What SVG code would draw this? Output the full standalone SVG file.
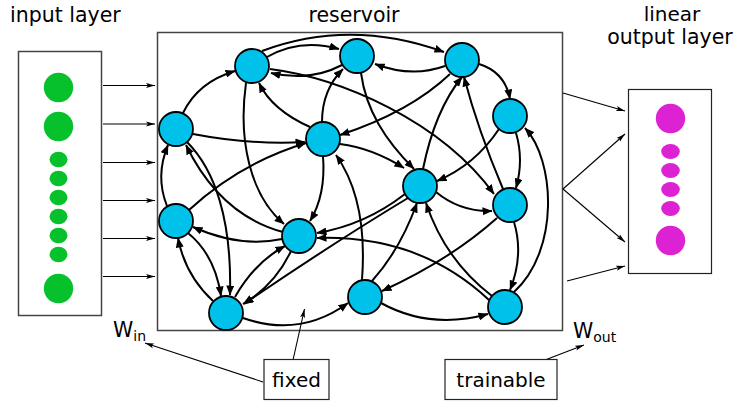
<svg xmlns="http://www.w3.org/2000/svg" width="735" height="401" viewBox="0 0 735 401">
<style>
  .lbl{font-family:"DejaVu Sans","Verdana",sans-serif;fill:#000}
  .title{font-size:20.5px}
  .node{fill:#00c1e9;stroke:#000;stroke-width:1.8}
  .e{fill:none;stroke:#000;stroke-width:2;marker-end:url(#ah)}
  .t{fill:none;stroke:#000;stroke-width:1.1;marker-end:url(#th)}
  .box{fill:#fff;stroke:#444;stroke-width:1.5}
  .in{fill:#06c12c}
  .out{fill:#dd22d3}
</style>
<defs>
  <marker id="ah" markerUnits="userSpaceOnUse" viewBox="0 0 10 8" markerWidth="10" markerHeight="8" refX="9.5" refY="4" orient="auto">
    <path d="M0,0 L10,4 L0,8 z" fill="#000"/>
  </marker>
  <marker id="th" markerUnits="userSpaceOnUse" viewBox="0 0 9 6" markerWidth="9" markerHeight="6" refX="9" refY="3" orient="auto">
    <path d="M0,0.5 L9,3 L0,5.5 L2,3 z" fill="#000"/>
  </marker>
</defs>
<rect width="735" height="401" fill="#fff"/>

<!-- titles -->
<text class="lbl title" x="10" y="22">input layer</text>
<text class="lbl title" x="354" y="22" text-anchor="middle">reservoir</text>
<text class="lbl" x="672" y="21" font-size="20" text-anchor="middle">linear</text>
<text class="lbl" x="670" y="44" font-size="20.5" text-anchor="middle">output layer</text>

<!-- input layer -->
<g id="input-layer">
  <rect class="box" x="18.5" y="51.5" width="83" height="264"/>
  <circle class="in" cx="58.5" cy="87.5" r="14.7"/>
  <circle class="in" cx="58.5" cy="126.5" r="14.7"/>
  <ellipse class="in" cx="58.5" cy="159.5" rx="9" ry="7.7"/>
  <ellipse class="in" cx="58.5" cy="178.5" rx="9" ry="7.7"/>
  <ellipse class="in" cx="58.5" cy="197.5" rx="9" ry="7.7"/>
  <ellipse class="in" cx="58.5" cy="216.5" rx="9" ry="7.7"/>
  <ellipse class="in" cx="58.5" cy="235.5" rx="9" ry="7.7"/>
  <ellipse class="in" cx="58.5" cy="254.5" rx="9" ry="7.7"/>
  <circle class="in" cx="58.5" cy="288.5" r="14.7"/>
</g>

<!-- reservoir frame -->
<g id="reservoir">
  <rect class="box" x="157.5" y="32.5" width="405" height="298"/>
</g>

<!-- output layer -->
<g id="output-layer">
  <rect x="628.5" y="89.5" width="83" height="184" fill="#fff" stroke="#222" stroke-width="1.2"/>
  <circle class="out" cx="670.5" cy="118.5" r="14.7"/>
  <ellipse class="out" cx="670.5" cy="151.5" rx="9.3" ry="7.4"/>
  <ellipse class="out" cx="670.5" cy="170.5" rx="9.3" ry="7.4"/>
  <ellipse class="out" cx="670.5" cy="189.5" rx="9.3" ry="7.4"/>
  <ellipse class="out" cx="670.5" cy="208.5" rx="9.3" ry="7.4"/>
  <circle class="out" cx="670.5" cy="240.5" r="14.7"/>
</g>

<!-- connectors -->
<g id="connectors">
  <!-- input weights -->
  <path class="t" d="M103,85.5 H155"/>
  <path class="t" d="M103,124 H155"/>
  <path class="t" d="M103,162.5 H155"/>
  <path class="t" d="M103,200.5 H155"/>
  <path class="t" d="M103,238.5 H155"/>
  <path class="t" d="M103,276.5 H155"/>
  <!-- output weights -->
  <path class="t" d="M563,93 L625,111"/>
  <path class="t" d="M563,189 L625,134"/>
  <path class="t" d="M563,189 L625,242"/>
  <path class="t" d="M567,281 L625,266"/>
  <!-- label pointers -->
  <path class="t" d="M263,382 L145,343"/>
  <path class="t" d="M293,360 L304.5,309"/>
  <path class="t" d="M545,360 L584,345"/>

  <!-- reservoir edges -->
  <path class="e" d="M183,113 Q198,82 235,71"/>
  <path class="e" d="M193,134 Q250,145 305,142"/>
  <path class="e" d="M187,142 C215,170 232,220 230,295"/>
  <path class="e" d="M267,57 Q300,38 339,49"/>
  <path class="e" d="M262,51 Q350,18 444,52"/>
  <path class="e" d="M246,83 C238,140 250,195 284,224"/>
  <path class="e" d="M270,69 C340,78 440,120 494,194"/>
  <path class="e" d="M342,65 Q310,82 271,73"/>
  <path class="e" d="M361,73 C366,110 385,140 414,169"/>
  <path class="e" d="M445,66 Q412,78 375,64"/>
  <path class="e" d="M450,74 Q410,112 340,135"/>
  <path class="e" d="M479,64 Q505,72 510,99"/>
  <path class="e" d="M499,129 Q475,165 437,181"/>
  <path class="e" d="M516,133 Q524,160 516,188"/>
  <path class="e" d="M310,127 Q272,110 259,83"/>
  <path class="e" d="M322,122 Q322,90 343,69"/>
  <path class="e" d="M340,144 Q372,148 404,168"/>
  <path class="e" d="M323,156 Q326,195 310,221"/>
  <path class="e" d="M423,169 Q435,110 462,77"/>
  <path class="e" d="M436,192 Q460,212 492,211"/>
  <path class="e" d="M405,194 Q365,225 317,233"/>
  <path class="e" d="M408,198 Q330,245 244,304"/>
  <path class="e" d="M503,189 Q478,130 464,77"/>
  <path class="e" d="M497,218 Q450,260 382,291"/>
  <path class="e" d="M514,222 Q524,255 510,290"/>
  <path class="e" d="M167,206 Q155,176 168,145"/>
  <path class="e" d="M189,210 Q240,163 306,143"/>
  <path class="e" d="M188,233 Q215,255 221,296"/>
  <path class="e" d="M283,232 Q220,215 186,145"/>
  <path class="e" d="M282,239 Q240,248 193,227"/>
  <path class="e" d="M291,251 Q275,285 243,304"/>
  <path class="e" d="M213,301 Q185,275 178,238"/>
  <path class="e" d="M235,297 Q255,262 285,246"/>
  <path class="e" d="M243,318 Q300,338 348,303"/>
  <path class="e" d="M362,280 Q368,200 336,155"/>
  <path class="e" d="M372,281 Q400,250 417,203"/>
  <path class="e" d="M381,303 Q430,330 488,314"/>
  <path class="e" d="M514,292 C560,250 555,160 525,128"/>
  <path class="e" d="M492,296 Q445,260 426,203"/>
  <path class="e" d="M489,300 Q420,235 317,238"/>
</g>

<!-- reservoir nodes -->
<g id="nA"><circle class="node" cx="176" cy="129" r="17"/></g>
<g id="nB"><circle class="node" cx="252" cy="66" r="17"/></g>
<g id="nC"><circle class="node" cx="357" cy="56" r="17"/></g>
<g id="nD"><circle class="node" cx="462" cy="60" r="17"/></g>
<g id="nE"><circle class="node" cx="510" cy="116" r="17"/></g>
<g id="nF"><circle class="node" cx="323" cy="139" r="17"/></g>
<g id="nG"><circle class="node" cx="420" cy="186" r="17"/></g>
<g id="nH"><circle class="node" cx="510" cy="205" r="17"/></g>
<g id="nI"><circle class="node" cx="176" cy="221" r="17"/></g>
<g id="nJ"><circle class="node" cx="299" cy="236" r="17"/></g>
<g id="nK"><circle class="node" cx="226" cy="313" r="17"/></g>
<g id="nL"><circle class="node" cx="365" cy="297" r="17"/></g>
<g id="nM"><circle class="node" cx="505" cy="307" r="17"/></g>

<!-- weight labels -->
<g id="w-in">
  <text class="lbl" x="113" y="337" font-size="20.5">W<tspan font-size="14" dy="4">in</tspan></text>
</g>
<g id="w-out">
  <text class="lbl" x="573" y="338" font-size="20.5">W<tspan font-size="14" dy="4">out</tspan></text>
</g>

<!-- fixed / trainable boxes -->
<g id="fixed">
  <rect x="264" y="359.5" width="65" height="40" fill="#fff" stroke="#222" stroke-width="1.2"/>
  <text class="lbl" x="296.5" y="387" font-size="20" text-anchor="middle">fixed</text>
</g>
<g id="trainable">
  <rect x="445" y="359.5" width="112" height="40" fill="#fff" stroke="#222" stroke-width="1.2"/>
  <text class="lbl" x="501" y="387" font-size="20" text-anchor="middle">trainable</text>
</g>
</svg>
